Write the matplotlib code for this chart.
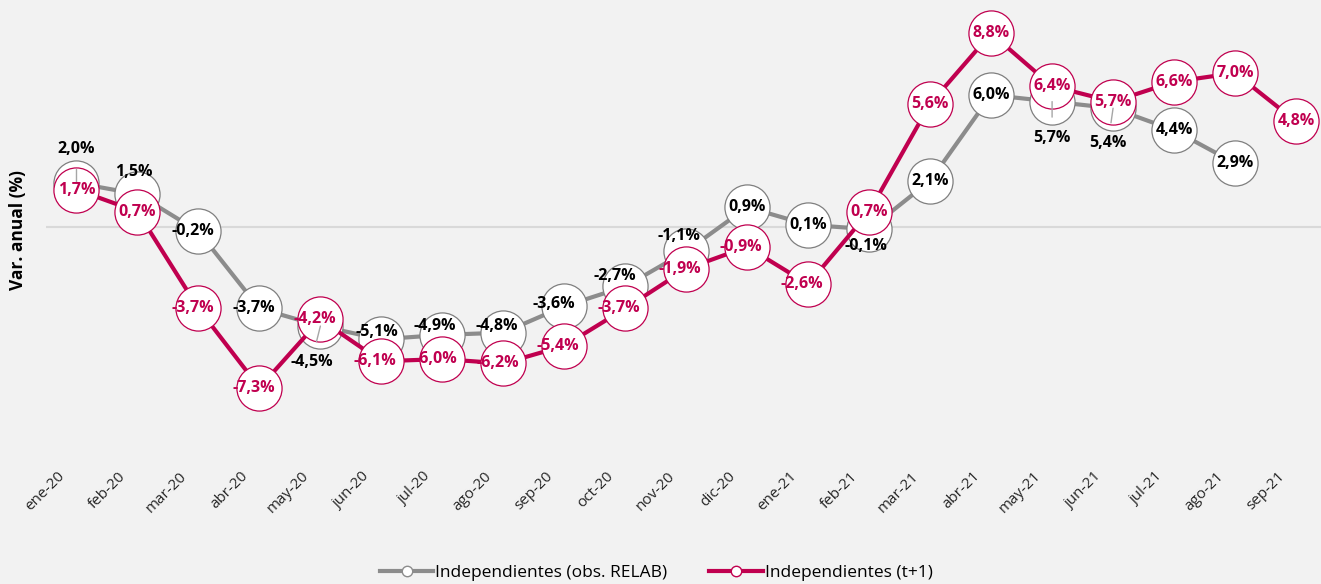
import matplotlib
matplotlib.use("Agg")
import matplotlib.pyplot as plt
from matplotlib.lines import Line2D
from matplotlib.transforms import ScaledTranslation

months = ["ene-20", "feb-20", "mar-20", "abr-20", "may-20", "jun-20", "jul-20",
          "ago-20", "sep-20", "oct-20", "nov-20", "dic-20", "ene-21", "feb-21",
          "mar-21", "abr-21", "may-21", "jun-21", "jul-21", "ago-21", "sep-21"]
relab = [2.0, 1.5, -0.2, -3.7, -4.5, -5.1, -4.9, -4.8, -3.6, -2.7, -1.1, 0.9,
         0.1, -0.1, 2.1, 6.0, 5.7, 5.4, 4.4, 2.9]
t1 = [1.7, 0.7, -3.7, -7.3, -4.2, -6.1, -6.0, -6.2, -5.4, -3.7, -1.9, -0.9,
      -2.6, 0.7, 5.6, 8.8, 6.4, 5.7, 6.6, 7.0, 4.8]

# label offsets (pixels) for the grey series; (dx, dy, leader)
relab_off = {0: (0, 34, True), 1: (-4, 22, False), 4: (-9, -36, True),
             5: (-4, 7, False), 6: (-8, 9, False), 7: (-7, 7, False),
             8: (-10, 2, False), 9: (-10, 10, False), 10: (-7, 15, False),
             13: (-3, -17, False), 16: (0, -36, True), 17: (-5, -35, True)}

GREY = "#8c8c8c"
MAG = "#c0004f"
BG = "#f2f2f2"

plt.rcParams['font.family'] = ['Open Sans', 'DejaVu Sans']

fig = plt.figure(figsize=(13.21, 5.84), dpi=100, facecolor=BG)
ax = fig.add_axes([46/1321, 1 - 455/584, 1 - 46/1321, 450/584])
ax.set_facecolor(BG)

x_r = list(range(len(relab)))
x_t = list(range(len(t1)))

ax.axhline(0, color="#d9d9d9", lw=1.5, zorder=1)

ax.plot(x_r, relab, color=GREY, lw=3, zorder=2, solid_capstyle='round')
ax.plot(x_r, relab, ls='none', marker='o', ms=32.5, mfc='white', mec='#7f7f7f',
        mew=0.9, zorder=2.5)
ax.plot(x_t, t1, color=MAG, lw=3, zorder=3, solid_capstyle='round')
ax.plot(x_t, t1, ls='none', marker='o', ms=32.5, mfc='white', mec=MAG,
        mew=0.9, zorder=3.5)

def fmt(v):
    return f"{v:.1f}".replace(".", ",") + "%"

for i, v in enumerate(relab):
    dx, dy, leader = relab_off.get(i, (-6 if v < 0 else 0, 0, False))
    kw = dict(xy=(i, v), xytext=(dx, dy), textcoords='offset pixels',
              ha='center', va='center', fontsize=11.5, fontweight='bold',
              color='black', zorder=4)
    if leader:
        kw['arrowprops'] = dict(arrowstyle='-', color='#a6a6a6', lw=1,
                                shrinkA=7, shrinkB=0)
    ax.annotate(fmt(v), **kw)

for i, v in enumerate(t1):
    dx = -6 if v < 0 else 0
    ax.annotate(fmt(v), xy=(i, v), xytext=(dx, 0), textcoords='offset pixels',
                ha='center', va='center', fontsize=11.5, fontweight='bold',
                color=MAG, zorder=5)

ax.set_xlim(-0.5, 20.41)
ax.set_ylim(-10.36, 10.09)
ax.set_xticks(x_t)
ax.set_xticklabels(months, rotation=45, ha='right', rotation_mode='anchor',
                   fontsize=11, color='#262626')
ax.tick_params(axis='x', length=0, pad=12)
shift = ScaledTranslation(-19/100, 3/100, fig.dpi_scale_trans)
for lab in ax.get_xticklabels():
    lab.set_transform(lab.get_transform() + shift)
ax.set_yticks([])
for s in ax.spines.values():
    s.set_visible(False)

fig.text(18/1321, 1 - 230/584, "Var. anual (%)", rotation=90, ha='center',
         va='center', fontsize=12.5, fontweight='bold')

handles = [Line2D([], [], color=GREY, lw=3, marker='o', ms=7.5, mfc='white',
                  mec=GREY, mew=1),
           Line2D([], [], color=MAG, lw=3, marker='o', ms=7.5, mfc='white',
                  mec=MAG, mew=1)]
fig.legend(handles, ["Independientes (obs. RELAB)", "Independientes (t+1)"],
           loc='center', bbox_to_anchor=(656/1321, 1 - 573/584), ncol=2,
           frameon=False, fontsize=12.5, handlelength=3.1, handletextpad=0.1,
           columnspacing=2.4)

fig.savefig("out.png", dpi=100, facecolor=BG)
